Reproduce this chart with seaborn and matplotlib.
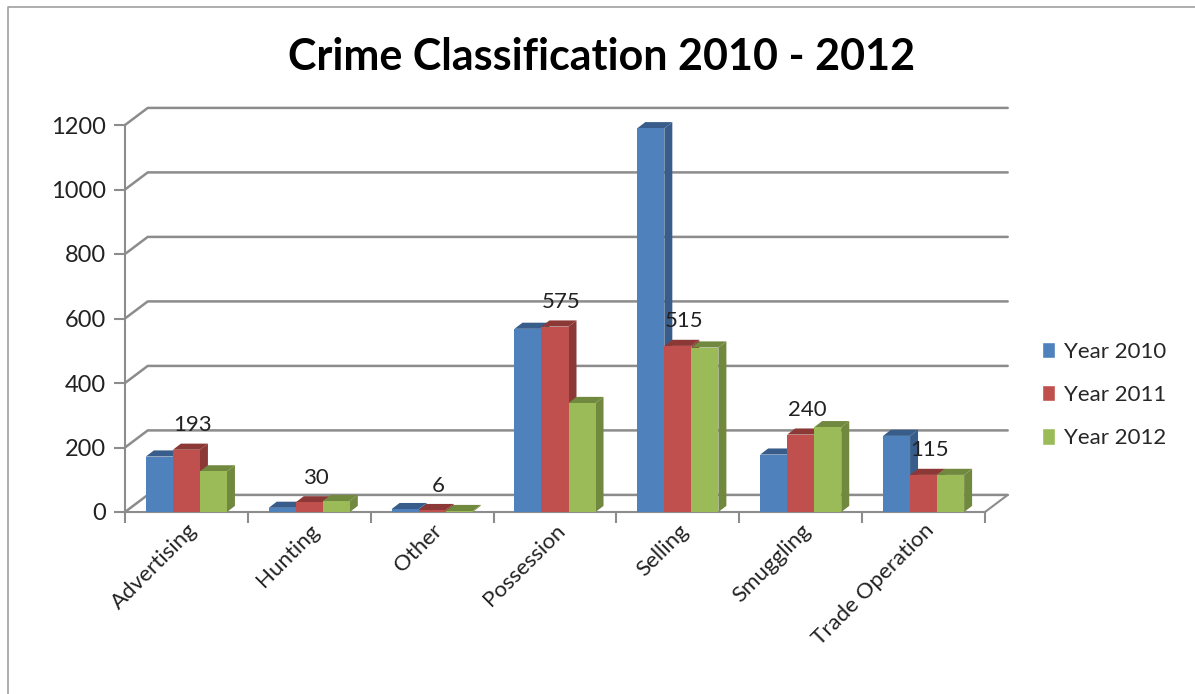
import matplotlib
matplotlib.use("Agg")
import matplotlib.pyplot as plt
from matplotlib.patches import Polygon, Rectangle
from matplotlib.lines import Line2D
import pandas as pd
import seaborn as sns

categories = ["Advertising", "Hunting", "Other", "Possession", "Selling", "Smuggling", "Trade Operation"]
years = ["Year 2010", "Year 2011", "Year 2012"]
y2010 = [172, 13, 9, 568, 1190, 178, 236]
y2011 = [193, 30, 6, 575, 515, 240, 115]
y2012 = [126, 34, 3, 338, 510, 263, 115]

colors = ["#4F81BD", "#C0504D", "#9BBB59"]
sides = ["#385D8A", "#8C3836", "#71893F"]
grid_c = "#8C8C8C"

df = pd.DataFrame({
    "category": categories * 3,
    "year": [years[0]] * 7 + [years[1]] * 7 + [years[2]] * 7,
    "value": y2010 + y2011 + y2012,
})

sns.set_theme(style="white")
plt.rcParams["font.family"] = ["Lato", "DejaVu Sans"]

fig = plt.figure(figsize=(11.95, 6.94), dpi=100)
ax = fig.add_axes([125 / 1195, 182 / 694, 860 / 1195, 387 / 694])

sns.barplot(data=df, x="category", y="value", hue="year", palette=colors,
            width=0.66, gap=0, saturation=1, ax=ax, legend=False)

# fake excel 3d look: side and top faces on each bar
dx, dy = 0.065, 19
bars = sorted(ax.patches, key=lambda p: p.get_x())
for i, p in enumerate(bars):
    x, w, h = p.get_x(), p.get_width(), p.get_height()
    hexc = matplotlib.colors.to_hex(p.get_facecolor()).upper()
    k = colors.index(hexc) if hexc in colors else 0
    p.set_zorder(3 + i * 3 + 2)
    p.set_edgecolor("none")
    p.set_clip_on(False)
    ax.add_patch(Polygon([(x + w, 0), (x + w + dx, dy), (x + w + dx, h + dy), (x + w, h)],
                         facecolor=sides[k], edgecolor="none", zorder=3 + i * 3, clip_on=False))
    ax.add_patch(Polygon([(x, h), (x + dx, h + dy), (x + w + dx, h + dy), (x + w, h)],
                         facecolor=sides[k], edgecolor="none", zorder=3 + i * 3 + 1, clip_on=False))

# back wall gridlines with the slanted joint to the axis
ticks = list(range(0, 1201, 200))
gx, gy = 0.185, 53
x0, x1 = -0.5, len(categories) - 0.5
for t in ticks:
    ax.add_line(Line2D([x0, x0 + gx, x1 + gx], [t, t + gy, t + gy], color=grid_c,
                       lw=1.8, zorder=1, clip_on=False))
ax.add_line(Line2D([x1, x1 + gx], [0, gy], color=grid_c, lw=1.5, zorder=1, clip_on=False))

# data labels on the 2011 series
for i, v in enumerate(y2011):
    ax.text(i + 0.05, v + 45, str(v), ha="center", va="bottom", fontsize=16,
            color="#222222", zorder=100)

ax.set_ylim(0, 1200)
ax.set_xlim(x0, x1)
ax.set_yticks(ticks)
ax.set_xlabel("")
ax.set_ylabel("")
for s in ["top", "right"]:
    ax.spines[s].set_visible(False)
for s in ["left", "bottom"]:
    ax.spines[s].set_color(grid_c)
    ax.spines[s].set_linewidth(1.5)

ax.tick_params(axis="y", which="major", left=True, length=8, width=1.5, color=grid_c,
               labelsize=17, labelcolor="#222222", pad=6)
ax.set_xticks(range(len(categories)))
ax.set_xticklabels(categories, rotation=45, ha="right", rotation_mode="anchor",
                   fontsize=16, color="#222222")
ax.set_xticks([i - 0.5 for i in range(len(categories) + 1)], minor=True)
ax.tick_params(axis="x", which="major", length=0, pad=6)
ax.tick_params(axis="x", which="minor", bottom=True, length=8, width=1.5, color=grid_c)

fig.text(0.503, 1 - 37 / 694, "Crime Classification 2010 - 2012", ha="center", va="top",
         fontsize=31, fontweight="bold", color="black")

handles = [Rectangle((0, 0), 1, 1, facecolor=c) for c in colors]
fig.legend(handles, years, loc="center left", bbox_to_anchor=(1022 / 1195, 1 - 395 / 694),
           frameon=False, fontsize=16, handlelength=0.6, handleheight=0.75,
           labelspacing=1.05, handletextpad=0.4)

# chart frame (left and top edges visible)
fig.add_artist(Line2D([8 / 1195, 8 / 1195, 1], [0, 1 - 7 / 694, 1 - 7 / 694],
                      transform=fig.transFigure, color="#A0A0A0", lw=1.2))

fig.savefig("out.png", dpi=100)
